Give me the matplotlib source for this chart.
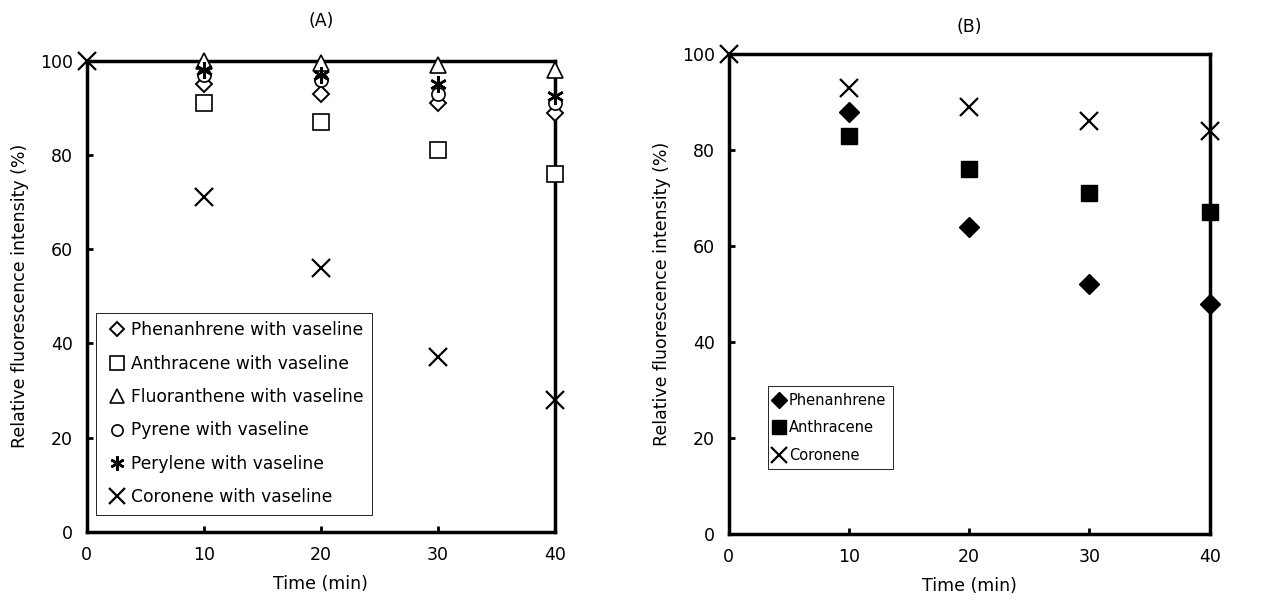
import matplotlib.pyplot as plt

# panel A: with vaseline
time_a = [10, 20, 30, 40]
phen_a = [95, 93, 91, 89]
anth_a = [91, 87, 81, 76]
fluo_a = [100, 99.5, 99, 98]
pyr_a = [97, 96, 93, 91]
pery_a = [98, 97, 95, 92.5]
time_cor = [0, 10, 20, 30, 40]
cor_a = [100, 71, 56, 37, 28]

# panel B: without vaseline
time_b = [10, 20, 30, 40]
phen_b = [88, 64, 52, 48]
anth_b = [83, 76, 71, 67]
cor_b = [100, 93, 89, 86, 84]

plt.rcParams['font.family'] = ['DejaVu Sans']

fig = plt.figure(figsize=(12.76, 6.07), dpi=100)
axA = fig.add_axes([0.068, 0.124, 0.367, 0.776])
axB = fig.add_axes([0.571, 0.120, 0.377, 0.791])


def style(ax, title, tpad):
    ax.set_xlim(0, 40)
    ax.set_ylim(0, 100)
    ax.set_xticks([0, 10, 20, 30, 40])
    ax.set_yticks([0, 20, 40, 60, 80, 100])
    ax.tick_params(direction='in', length=4, width=2, labelsize=12.5, pad=10)
    for s in ax.spines.values():
        s.set_linewidth(2.5)
    ax.set_xlabel('Time (min)', fontsize=12.5, labelpad=8)
    ax.set_ylabel('Relative fluorescence intensity (%)', fontsize=12.5, labelpad=8)
    ax.set_title(title, fontsize=12.5, pad=tpad)


kw = dict(linestyle='none', color='black', clip_on=False, zorder=5)
axA.plot(time_a, phen_a, marker='D', markersize=8.5, mfc='white', mew=1.4, label='Phenanhrene with vaseline', **kw)
axA.plot(time_a, anth_a, marker='s', markersize=12, mfc='white', mew=1.2, label='Anthracene with vaseline', **kw)
axA.plot(time_a, fluo_a, marker='^', markersize=12, mfc='white', mew=1.2, label='Fluoranthene with vaseline', **kw)
axA.plot(time_a, pyr_a, marker='o', markersize=9.5, mfc='white', mew=1.2, label='Pyrene with vaseline', **kw)
axA.plot(time_a, pery_a, marker=(6, 2, 0), markersize=12, mew=1.8, label='Perylene with vaseline', **kw)
axA.plot(time_cor, cor_a, marker='x', markersize=13, mew=1.6, label='Coronene with vaseline', **kw)
style(axA, '(A)', 25)
legA = axA.legend(loc='lower left', bbox_to_anchor=(0.019, 0.036), borderaxespad=0, fontsize=12.3,
                  handlelength=1.5, handletextpad=0.05, labelspacing=0.9, borderpad=0.5, fancybox=False,
                  edgecolor='black', framealpha=1, markerscale=0.85)
legA.get_frame().set_linewidth(0.6)

axB.plot(time_b, phen_b, marker='D', markersize=10, mfc='black', label='Phenanhrene', **kw)
axB.plot(time_b, anth_b, marker='s', markersize=12, mfc='black', label='Anthracene', **kw)
axB.plot(time_cor, cor_b, marker='x', markersize=13, mew=1.6, label='Coronene', **kw)
style(axB, '(B)', 16)
legB = axB.legend(loc='lower left', bbox_to_anchor=(0.081, 0.135), borderaxespad=0, fontsize=10.5,
                  handlelength=0.7, handletextpad=0.3, labelspacing=0.85, borderpad=0.45, fancybox=False,
                  edgecolor='black', framealpha=1, markerscale=0.85)
legB.get_frame().set_linewidth(0.6)

plt.savefig('out.png', dpi=100)
